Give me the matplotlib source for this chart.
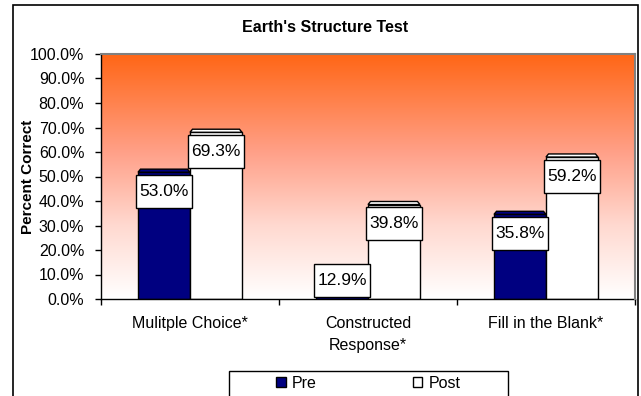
import numpy as np
import matplotlib
matplotlib.use("Agg")
import matplotlib.pyplot as plt
import matplotlib.transforms as mtransforms
from matplotlib.colors import LinearSegmentedColormap
from matplotlib.patches import Rectangle, Polygon, Patch

plt.rcParams["font.family"] = ["Liberation Sans", "DejaVu Sans"]

categories = ["Mulitple Choice*", "Constructed\nResponse*", "Fill in the Blank*"]
pre = [53.0, 12.9, 35.8]
post = [69.3, 39.8, 59.2]
series_names = ["Pre", "Post"]
series_colors = ["#000080", "#FFFFFF"]

W, H = 641, 396
fig = plt.figure(figsize=(W / 100, H / 100), dpi=100)

# outer chart frame
fig.patches.append(Rectangle((13 / W, -0.05), 625 / W, 1.05 - 5 / H,
                             transform=fig.transFigure, fill=False,
                             edgecolor="black", linewidth=1.2, zorder=0))

ax = fig.add_axes([101 / W, 1 - 299 / H, 534 / W, 245 / H])
ax.set_xlim(-0.5, 2.5)
ax.set_ylim(0, 100)

# background gradient, orange at the top fading to white
cmap = LinearSegmentedColormap.from_list(
    "bg", [(0.0, "#FFFFFF"), (0.3, "#FFD9D0"), (0.6, "#FFA088"), (1.0, "#FF6616")])
grad = np.linspace(0, 1, 256).reshape(-1, 1)
ax.imshow(grad, cmap=cmap, origin="lower", aspect="auto",
          extent=(-0.5, 2.5, 0, 100), zorder=0)

x = np.arange(len(categories))
bw = 0.292
depth = 1.25   # height of the top face
inset = 0.014  # horizontal shrink of the back edge

for vals, off, col in [(pre, -bw / 2, series_colors[0]), (post, bw / 2, series_colors[1])]:
    for xi, v in zip(x, vals):
        left = xi + off - bw / 2
        ax.add_patch(Rectangle((left, 0), bw, v - depth, facecolor=col,
                               edgecolor="black", linewidth=1, zorder=2))
        ax.add_patch(Polygon([(left, v - depth), (left + bw, v - depth),
                              (left + bw - inset, v), (left + inset, v)],
                             closed=True, facecolor=col, edgecolor="black",
                             linewidth=1, zorder=2))
        # value label in a fixed-size box (sized in inches)
        yl = max(v - 9.0, 7.6)
        box_tr = fig.dpi_scale_trans + mtransforms.ScaledTranslation(
            xi + off, yl, ax.transData)
        ax.add_patch(Rectangle((-0.28, -0.165), 0.56, 0.33, transform=box_tr,
                               facecolor="white", edgecolor="black",
                               linewidth=1, zorder=3))
        ax.text(xi + off, yl, f"{v:.1f}%", ha="center", va="center",
                fontsize=12.5, zorder=4)

ax.set_yticks(np.arange(0, 101, 10))
ax.set_yticklabels([f"{t:.1f}%" for t in np.arange(0, 101, 10)], fontsize=11.5)
ax.set_xticks(x)
ax.set_xticklabels(categories, fontsize=11.5, linespacing=1.65)
ax.set_xticks([-0.5, 0.5, 1.5, 2.5], minor=True)
ax.tick_params(axis="x", which="major", length=0, pad=12)
ax.tick_params(axis="x", which="minor", length=4, width=1, direction="out")
ax.tick_params(axis="y", length=4, width=1, direction="out", pad=8)

for s in ["left", "bottom"]:
    ax.spines[s].set_color("black")
    ax.spines[s].set_linewidth(1)
for s in ["top", "right"]:
    ax.spines[s].set_color("#808080")
    ax.spines[s].set_linewidth(1.5)
    ax.spines[s].set_zorder(3)

fig.text(325 / W, 1 - 28 / H, "Earth's Structure Test", ha="center", va="center",
         fontsize=11.5, fontweight="bold")
fig.text(28 / W, 1 - 177 / H, "Percent Correct", ha="center", va="center",
         rotation=90, fontsize=11, fontweight="bold")

# legend: frame drawn separately so it runs off the bottom edge
fig.patches.append(Rectangle((229 / W, -0.05), 279 / W, 0.05 + 1 - 371 / H,
                             transform=fig.transFigure, facecolor="white",
                             edgecolor="black", linewidth=1, zorder=1))
handles = [Patch(facecolor=c, edgecolor="black", linewidth=1) for c in series_colors]
leg = fig.legend(handles, series_names, loc="center",
                 bbox_to_anchor=(368.5 / W, 1 - 383 / H), ncol=2, fontsize=11.5,
                 frameon=False, handlelength=0.6, handleheight=0.6,
                 handletextpad=0.4, columnspacing=6.0, borderpad=0,
                 borderaxespad=0)
leg.set_zorder(2)

fig.savefig("out.png", dpi=100)
